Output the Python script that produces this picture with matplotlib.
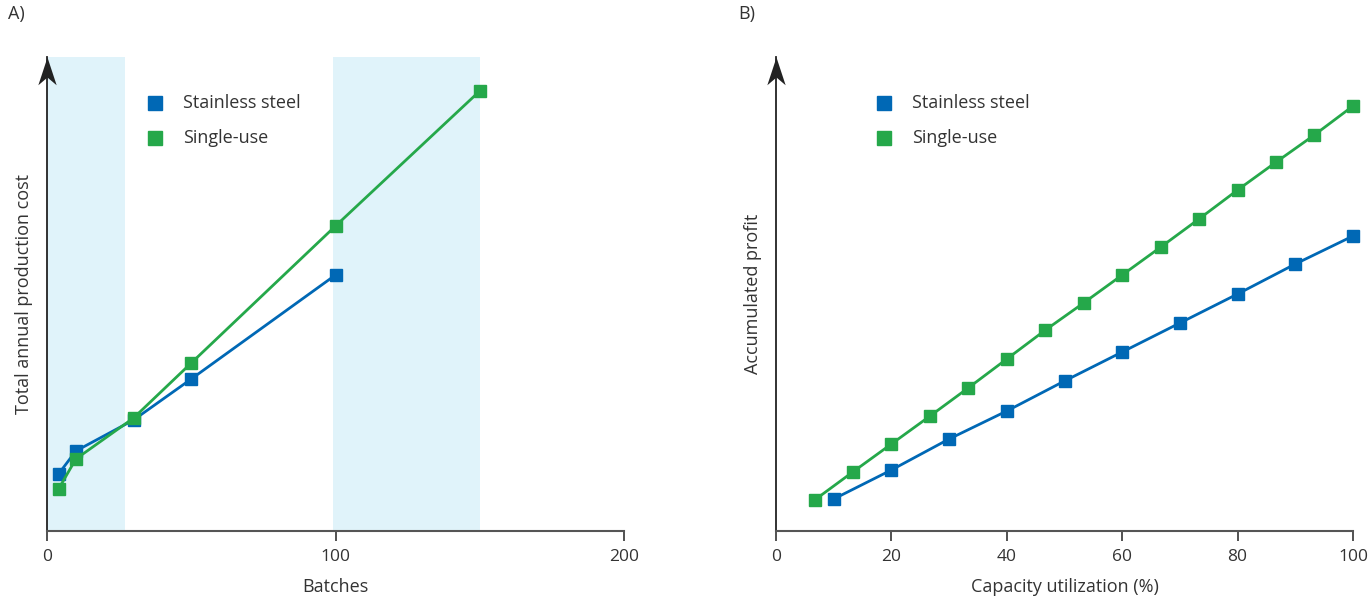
import matplotlib.pyplot as plt
from matplotlib.path import Path

# Panel A: total annual production cost vs batches
batches_ss = [4, 10, 30, 50, 100]
cost_ss = [5.7, 8.0, 11.1, 15.2, 25.6]
batches_su = [4, 10, 30, 50, 100, 150]
cost_su = [4.2, 7.2, 11.3, 16.8, 30.5, 44.0]
shaded_ranges = [(0, 27), (99, 150)]

# Panel B: accumulated profit vs capacity utilization
util_ss = [10, 20, 30, 40, 50, 60, 70, 80, 90, 100]
profit_ss = [3.2, 6.1, 9.2, 12.0, 15.0, 17.9, 20.8, 23.7, 26.7, 29.5]
util_su = [6.7, 13.3, 20, 26.7, 33.3, 40, 46.7, 53.3, 60, 66.7, 73.3, 80, 86.7, 93.3, 100]
profit_su = [3.1, 5.9, 8.7, 11.5, 14.3, 17.2, 20.1, 22.8, 25.6, 28.4, 31.2, 34.1, 36.9, 39.6, 42.5]

blue = '#0068b5'
green = '#25a84a'
shade = '#e0f3fa'
txt = '#333333'

plt.rcParams['font.family'] = ['Open Sans', 'DejaVu Sans']

# stealth-like arrowhead, tip at origin
arrow_head = Path([(0, 0), (-0.33, -1), (0, -0.72), (0.33, -1), (0, 0)],
                  [Path.MOVETO, Path.LINETO, Path.LINETO, Path.LINETO, Path.CLOSEPOLY])

fig = plt.figure(figsize=(13.7, 5.96), dpi=100)
axA = fig.add_axes([47/1370, 1-531/596, 577/1370, 474/596])
axB = fig.add_axes([776/1370, 1-531/596, 577/1370, 474/596])


def style_axis(ax, xlim, xticks, xlabel, ylabel):
    ax.set_xlim(*xlim)
    ax.set_ylim(0, 47.4)
    for s in ['top', 'right']:
        ax.spines[s].set_visible(False)
    ax.spines['bottom'].set_color('#555555')
    ax.spines['bottom'].set_linewidth(1.5)
    ax.spines['left'].set_color('#222222')
    ax.spines['left'].set_linewidth(1.3)
    ax.set_xticks(xticks)
    ax.tick_params(axis='x', direction='out', length=7, width=1.2, color='#333333',
                   labelsize=12.5, labelcolor=txt, pad=6)
    ax.set_yticks([])
    ax.set_xlabel(xlabel, fontsize=13, color=txt, labelpad=9)
    ax.set_ylabel(ylabel, fontsize=13, color=txt, labelpad=10)
    # arrowhead on y axis
    ax.plot(0, 1, marker=arrow_head, markersize=40, color='#222222', markeredgewidth=0,
            transform=ax.transAxes, clip_on=False, zorder=5)


def legend(ax, x0, y0):
    ax.plot(x0, y0, 's', color=blue, markersize=10, transform=ax.transAxes, clip_on=False)
    ax.text(x0 + 0.048, y0, 'Stainless steel', transform=ax.transAxes, fontsize=13,
            color=txt, va='center')
    ax.plot(x0, y0 - 0.074, 's', color=green, markersize=10, transform=ax.transAxes, clip_on=False)
    ax.text(x0 + 0.048, y0 - 0.074, 'Single-use', transform=ax.transAxes, fontsize=13,
            color=txt, va='center')


# Panel A
for lo, hi in shaded_ranges:
    axA.axvspan(lo, hi, color=shade, lw=0, zorder=0)
axA.plot(batches_ss, cost_ss, '-s', color=blue, lw=2, markersize=8.5, clip_on=False, zorder=3)
axA.plot(batches_su, cost_su, '-s', color=green, lw=2, markersize=8.5, clip_on=False, zorder=4)
style_axis(axA, (0, 200), [0, 100, 200], 'Batches', 'Total annual production cost')
legend(axA, 0.188, 0.903)
axA.text(-0.068, 1.09, 'A)', transform=axA.transAxes, fontsize=13, color=txt, va='center')

# Panel B
axB.plot(util_ss, profit_ss, '-s', color=blue, lw=2, markersize=8.5, clip_on=False, zorder=3)
axB.plot(util_su, profit_su, '-s', color=green, lw=2, markersize=8.5, clip_on=False, zorder=4)
style_axis(axB, (0, 100), [0, 20, 40, 60, 80, 100], 'Capacity utilization (%)', 'Accumulated profit')
legend(axB, 0.188, 0.903)
axB.text(-0.066, 1.09, 'B)', transform=axB.transAxes, fontsize=13, color=txt, va='center')

fig.patch.set_facecolor('white')
plt.savefig('out.png', dpi=100, facecolor='white')
